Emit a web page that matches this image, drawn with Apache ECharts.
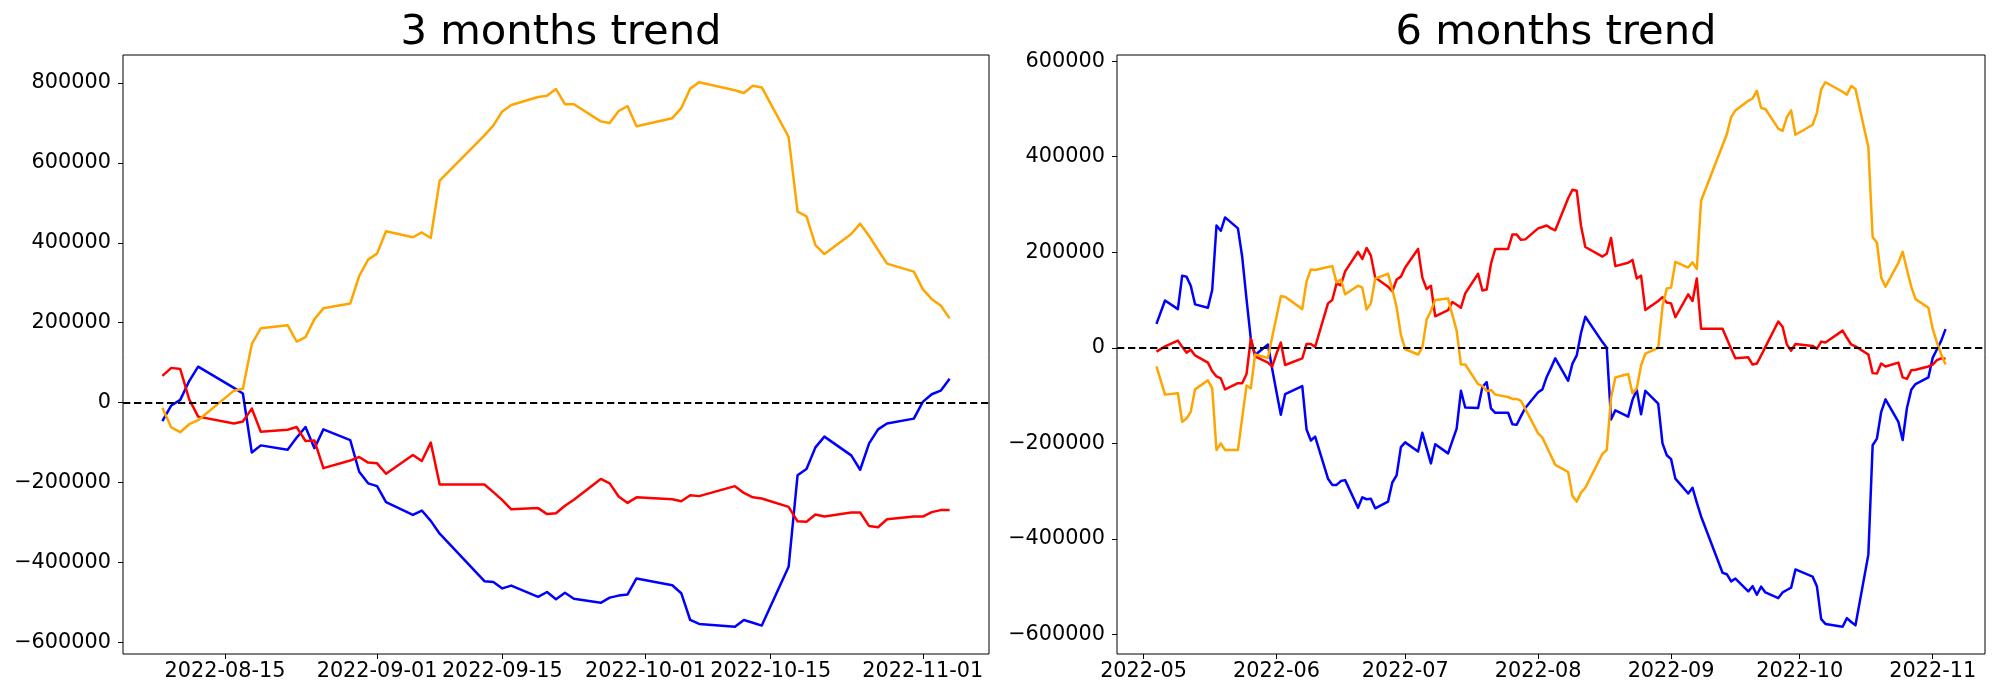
<!DOCTYPE html>
<html><head><meta charset="utf-8">
<script src="https://cdn.jsdelivr.net/npm/echarts@6/dist/echarts.min.js"></script>
<style>html,body{margin:0;padding:0;background:#fff}#c{width:2000px;height:700px}</style>
</head><body><div id="c"></div>
<script>
const titles = ['3 months trend', '6 months trend'];

const dates3 = ['2022-08-08','2022-08-09','2022-08-10','2022-08-11','2022-08-12','2022-08-16','2022-08-17','2022-08-18','2022-08-19',
'2022-08-22','2022-08-23','2022-08-24','2022-08-25','2022-08-26','2022-08-29','2022-08-30','2022-08-31','2022-09-01','2022-09-02',
'2022-09-05','2022-09-06','2022-09-07','2022-09-08','2022-09-13','2022-09-14','2022-09-15','2022-09-16','2022-09-19','2022-09-20',
'2022-09-21','2022-09-22','2022-09-23','2022-09-26','2022-09-27','2022-09-28','2022-09-29','2022-09-30','2022-10-04','2022-10-05',
'2022-10-06','2022-10-07','2022-10-11','2022-10-12','2022-10-13','2022-10-14','2022-10-17','2022-10-18','2022-10-19','2022-10-20',
'2022-10-21','2022-10-24','2022-10-25','2022-10-26','2022-10-27','2022-10-28','2022-10-31','2022-11-01','2022-11-02','2022-11-03','2022-11-04'];
const blue3 = [-46000,-7000,7000,54000,90000,37000,23000,-125000,-107000,-118000,-88000,-61000,-114000,-67000,-94000,-173000,-202000,-209000,-249000,
-281000,-270000,-296000,-328000,-447000,-449000,-465000,-458000,-486000,-474000,-492000,-476000,-491000,-501000,-488000,-483000,-480000,-440000,
-457000,-477000,-544000,-554000,-561000,-544000,-551000,-558000,-411000,-182000,-166000,-112000,-85000,-132000,-168000,-102000,-67000,-52000,
-40000,2000,21000,30000,60000];
const red3 = [67000,87000,84000,8000,-35000,-52000,-47000,-15000,-73000,-68000,-61000,-96000,-95000,-164000,-145000,-136000,-150000,-152000,-178000,
-131000,-146000,-100000,-205000,-205000,-224000,-244000,-267000,-264000,-279000,-277000,-258000,-243000,-191000,-202000,-235000,-251000,-237000,
-242000,-247000,-232000,-234000,-209000,-226000,-237000,-240000,-261000,-297000,-298000,-280000,-285000,-275000,-275000,-309000,-312000,-292000,
-285000,-285000,-274000,-269000,-269000];
const orange3 = [-13000,-62000,-74000,-54000,-44000,30000,35000,147000,186000,194000,153000,164000,209000,236000,248000,317000,358000,373000,429000,
414000,426000,412000,556000,669000,694000,729000,745000,765000,768000,785000,747000,747000,704000,700000,730000,742000,692000,712000,737000,
786000,802000,782000,775000,793000,789000,665000,478000,466000,394000,372000,422000,448000,417000,382000,348000,328000,284000,259000,243000,211000];

const dates6 = [
'2022-05-04','2022-05-06','2022-05-09','2022-05-10','2022-05-11','2022-05-12','2022-05-13','2022-05-16','2022-05-17','2022-05-18','2022-05-19','2022-05-20','2022-05-23','2022-05-24','2022-05-25','2022-05-26','2022-05-27','2022-05-30','2022-05-31',
'2022-06-01','2022-06-02','2022-06-03','2022-06-07','2022-06-08','2022-06-09','2022-06-10','2022-06-13','2022-06-14','2022-06-15','2022-06-16','2022-06-17','2022-06-20','2022-06-21','2022-06-22','2022-06-23','2022-06-24','2022-06-27','2022-06-28','2022-06-29','2022-06-30',
'2022-07-01','2022-07-04','2022-07-05','2022-07-06','2022-07-07','2022-07-08','2022-07-11','2022-07-12','2022-07-13','2022-07-14','2022-07-15','2022-07-18','2022-07-19','2022-07-20','2022-07-21','2022-07-22','2022-07-25','2022-07-26','2022-07-27','2022-07-28','2022-07-29',
'2022-08-01','2022-08-02','2022-08-03','2022-08-04','2022-08-05','2022-08-08','2022-08-09','2022-08-10','2022-08-11','2022-08-12','2022-08-16','2022-08-17','2022-08-18','2022-08-19','2022-08-22','2022-08-23','2022-08-24','2022-08-25','2022-08-26','2022-08-29','2022-08-30','2022-08-31',
'2022-09-01','2022-09-02','2022-09-05','2022-09-06','2022-09-07','2022-09-08','2022-09-13','2022-09-14','2022-09-15','2022-09-16','2022-09-19','2022-09-20','2022-09-21','2022-09-22','2022-09-23','2022-09-26','2022-09-27','2022-09-28','2022-09-29','2022-09-30',
'2022-10-04','2022-10-05','2022-10-06','2022-10-07','2022-10-11','2022-10-12','2022-10-13','2022-10-14','2022-10-17','2022-10-18','2022-10-19','2022-10-20','2022-10-21','2022-10-24','2022-10-25','2022-10-26','2022-10-27','2022-10-28','2022-10-31',
'2022-11-01','2022-11-02','2022-11-03','2022-11-04'];
const blue6 = [
50000,99000,81000,151000,149000,130000,91000,84000,121000,256000,245000,273000,250000,190000,102000,19000,-15000,7000,-45000,
-93000,-140000,-97000,-80000,-171000,-194000,-186000,-274000,-287000,-287000,-279000,-277000,-335000,-313000,-317000,-316000,-336000,-322000,-282000,-267000,-208000,
-198000,-217000,-178000,-210000,-242000,-202000,-221000,-195000,-169000,-90000,-125000,-126000,-82000,-72000,-127000,-136000,-136000,-160000,-161000,-143000,-126000,
-93000,-87000,-61000,-42000,-22000,-69000,-33000,-16000,31000,65000,12000,0,-150000,-131000,-144000,-109000,-88000,-139000,-90000,-117000,-200000,-225000,
-233000,-274000,-305000,-293000,-324000,-353000,-471000,-474000,-489000,-483000,-510000,-499000,-517000,-500000,-512000,-524000,-512000,-507000,-502000,-464000,
-479000,-499000,-568000,-578000,-584000,-566000,-574000,-581000,-433000,-204000,-190000,-134000,-108000,-155000,-193000,-126000,-88000,-76000,-62000,
-21000,-3000,15000,39000];
const red6 = [
-8000,3000,15000,2000,-10000,-4000,-16000,-31000,-49000,-60000,-64000,-87000,-74000,-74000,-55000,19000,-18000,-31000,-39000,
-12000,11000,-36000,-22000,8000,8000,2000,93000,100000,135000,131000,160000,201000,186000,209000,193000,147000,128000,118000,143000,149000,
168000,207000,147000,123000,130000,66000,79000,96000,90000,84000,114000,155000,120000,122000,176000,207000,207000,237000,237000,226000,227000,
250000,253000,256000,250000,246000,313000,331000,329000,255000,211000,191000,197000,230000,171000,178000,184000,145000,151000,79000,98000,106000,95000,
93000,64000,112000,98000,145000,40000,40000,19000,-2000,-22000,-20000,-35000,-33000,-16000,2000,55000,44000,7000,-6000,8000,
4000,-2000,13000,11000,36000,21000,7000,3000,-14000,-53000,-54000,-33000,-39000,-31000,-62000,-65000,-47000,-46000,-39000,
-35000,-26000,-22000,-23000];
const orange6 = [
-39000,-98000,-95000,-155000,-148000,-134000,-87000,-68000,-85000,-214000,-200000,-214000,-214000,-146000,-79000,-85000,-14000,-21000,23000,
65000,108000,107000,81000,139000,164000,163000,169000,171000,137000,143000,112000,130000,126000,80000,93000,145000,155000,122000,85000,27000,
-3000,-14000,1000,59000,77000,100000,103000,69000,36000,-35000,-35000,-76000,-80000,-91000,-88000,-98000,-103000,-107000,-107000,-111000,-128000,
-179000,-188000,-207000,-226000,-245000,-260000,-310000,-322000,-303000,-293000,-222000,-214000,-105000,-62000,-55000,-95000,-85000,-37000,-12000,0,87000,124000,
126000,180000,168000,179000,165000,308000,424000,447000,483000,497000,517000,522000,538000,502000,500000,459000,454000,483000,497000,446000,
467000,492000,541000,556000,536000,530000,548000,542000,420000,232000,220000,147000,128000,178000,201000,164000,128000,102000,84000,
40000,11000,-14000,-35000];

const xTicks3 = ['2022-08-15','2022-09-01','2022-09-15','2022-10-01','2022-10-15','2022-11-01'];
const xTicks6 = ['2022-05','2022-06','2022-07','2022-08','2022-09','2022-10','2022-11'];
const yTicks3 = [-600000,-400000,-200000,0,200000,400000,600000,800000];
const yTicks6 = [-600000,-400000,-200000,0,200000,400000,600000];

const FONT = 'DejaVu Sans';
const ts = s => { const p = s.split('-').map(Number); return Date.UTC(p[0], p[1] - 1, p[2] || 1); };
const pairs = (dates, vals) => dates.map((d, i) => [ts(d), vals[i]]);
const pad = v => (v.max - v.min) * 0.05;
const fmtY = v => v < 0 ? '\u2212' + (-v) : String(v);
const tick = { show: true, inside: false, length: 5, lineStyle: { color: '#000', width: 1 } };

function makeX(gi, ticks) {
  const vals = ticks.map(ts);
  const lab = {}; ticks.forEach(t => { lab[ts(t)] = t; });
  return {
    type: 'value', gridIndex: gi, scale: true, position: 'bottom',
    min: v => v.min - pad(v), max: v => v.max + pad(v),
    axisLine: { show: false, onZero: false }, splitLine: { show: false },
    axisTick: Object.assign({}, tick, { customValues: vals }),
    axisLabel: { customValues: vals, formatter: v => lab[v] !== undefined ? lab[v] : '',
      fontFamily: FONT, fontSize: 20.8, color: '#000', margin: 7, hideOverlap: false,
      showMinLabel: true, showMaxLabel: true }
  };
}
function makeY(gi, ticks) {
  return {
    type: 'value', gridIndex: gi, scale: true, position: 'left',
    min: v => v.min - pad(v), max: v => v.max + pad(v),
    axisLine: { show: false, onZero: false }, splitLine: { show: false },
    axisTick: Object.assign({}, tick, { customValues: ticks }),
    axisLabel: { customValues: ticks, formatter: fmtY, fontFamily: FONT, fontSize: 20.8, color: '#000', margin: 12,
      showMinLabel: true, showMaxLabel: true }
  };
}
function line(color, gi, dates, vals, withZero) {
  const s = {
    type: 'line', xAxisIndex: gi, yAxisIndex: gi, data: pairs(dates, vals),
    symbol: 'none', showSymbol: false, animation: false, silent: true,
    lineStyle: { color: color, width: 2.5, join: 'round' }, itemStyle: { color: color }
  };
  if (withZero) {
    s.markLine = { silent: true, symbol: ['none', 'none'], label: { show: false }, animation: false,
      lineStyle: { color: '#000', type: [7.3, 3.7], width: 2 }, data: [{ yAxis: 0 }] };
  }
  return s;
}

const chart = echarts.init(document.getElementById('c'), null, { renderer: 'canvas' });
chart.setOption({
  backgroundColor: '#fff',
  animation: false,
  title: [
    { text: titles[0], left: 556, top: 7, textAlign: 'center', textStyle: { fontFamily: FONT, fontSize: 41.7, fontWeight: 'normal', color: '#000' } },
    { text: titles[1], left: 1551, top: 7, textAlign: 'center', textStyle: { fontFamily: FONT, fontSize: 41.7, fontWeight: 'normal', color: '#000' } }
  ],
  grid: [
    { left: 123, top: 55, width: 866, height: 599, show: true, borderColor: '#000', borderWidth: 1, backgroundColor: 'transparent' },
    { left: 1117, top: 55, width: 868, height: 599, show: true, borderColor: '#000', borderWidth: 1, backgroundColor: 'transparent' }
  ],
  xAxis: [makeX(0, xTicks3), makeX(1, xTicks6)],
  yAxis: [makeY(0, yTicks3), makeY(1, yTicks6)],
  series: [
    line('#0000ff', 0, dates3, blue3),
    line('#ff0000', 0, dates3, red3),
    line('#ffa500', 0, dates3, orange3, true),
    line('#0000ff', 1, dates6, blue6),
    line('#ff0000', 1, dates6, red6),
    line('#ffa500', 1, dates6, orange6, true)
  ]
});
</script>
</body></html>
